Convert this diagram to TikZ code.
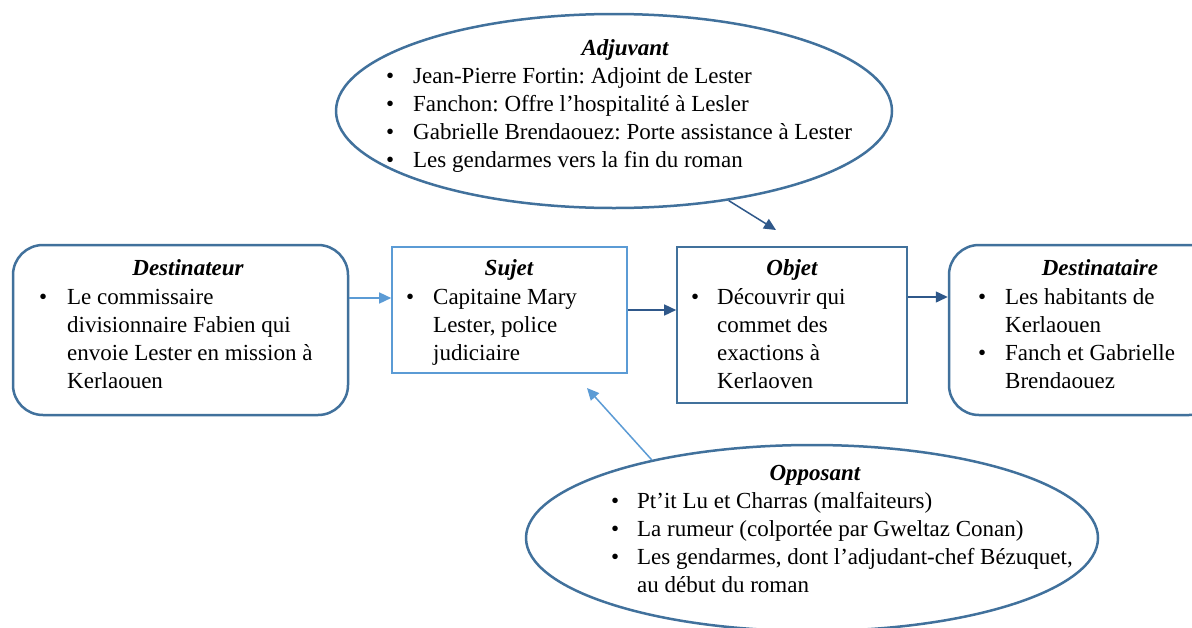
\documentclass[tikz,border=0pt]{standalone}
\usepackage{fontspec}
\setmainfont{Liberation Serif}
\usetikzlibrary{arrows.meta,shapes.geometric}
\definecolor{frame}{RGB}{65,113,156}
\definecolor{lightb}{RGB}{91,155,213}
\definecolor{darkb}{RGB}{47,88,138}
\newcommand\bodyfont{\fontsize{23}{28}\selectfont}
\newcommand\bl[1]{\makebox[#1pt][l]{\textbullet}}
\frenchspacing
\begin{document}
\begin{tikzpicture}[x=1pt,y=-1pt,
  rbox/.style={draw=frame, line width=2.5pt, rounded corners=30pt, inner sep=0pt},
  sbox/.style={draw=#1, line width=1.6pt, inner sep=0pt},
  oval/.style={draw=frame, line width=2.5pt, ellipse, inner sep=0pt},
  ttl/.style={anchor=base, inner sep=0pt, font=\bodyfont\bfseries\itshape},
  items/.style={anchor=base west, inner sep=0pt, font=\bodyfont},
  larrow/.style={draw=lightb, line width=1.5pt, -{Triangle[length=12pt,width=11pt]}},
  darrow/.style={draw=darkb, line width=1.5pt, -{Triangle[length=12pt,width=11pt]}}]
\useasboundingbox (0,0) rectangle (1192,627);
\fill[white] (0,0) rectangle (1192,627);
\clip (0,0) rectangle (1192,627);

% shapes
\node[rbox, minimum width=335pt, minimum height=170pt] (dest) at (180.5,330) {};
\node[sbox=lightb, minimum width=235pt, minimum height=126pt] (suj) at (509.5,310) {};
\node[sbox=frame, minimum width=230pt, minimum height=156pt] (obj) at (792,325) {};
\node[rbox, minimum width=270pt, minimum height=170pt] (dstn) at (1084,330) {};
\node[oval, minimum width=556pt, minimum height=194pt] (adj) at (614,111) {};
\node[oval, minimum width=572pt, minimum height=186pt] (opp) at (812,538) {};

% titles
\node[ttl] (dest-t) at (188,275) {Destinateur};
\node[ttl] (suj-t) at (509,275) {Sujet};
\node[ttl] (obj-t) at (792,275) {Objet};
\node[ttl] (dstn-t) at (1100,275) {Destinataire};
\node[ttl] (adj-t) at (625,55) {Adjuvant};
\node[ttl] (opp-t) at (815,480) {Opposant};

% texts
\node[items] (dest-i) at (39,304) {\begin{tabular}[t]{@{}l@{}l@{}}
\bl{28}&Le commissaire\\
&divisionnaire Fabien qui\\
&envoie Lester en mission à\\
&Kerlaouen\end{tabular}};
\node[items] (suj-i) at (406,304) {\begin{tabular}[t]{@{}l@{}l@{}}
\bl{27}&Capitaine Mary\\
&Lester, police\\
&judiciaire\end{tabular}};
\node[items] (obj-i) at (691,304) {\begin{tabular}[t]{@{}l@{}l@{}}
\bl{26}&Découvrir qui\\
&commet des\\
&exactions à\\
&Kerlaoven\end{tabular}};
\node[items] (dstn-i) at (978,304) {\begin{tabular}[t]{@{}l@{}l@{}}
\bl{27}&Les habitants de\\
&Kerlaouen\\
\bl{27}&Fanch et Gabrielle\\
&Brendaouez\end{tabular}};
\node[items] (adj-i) at (386,83) {\begin{tabular}[t]{@{}l@{}l@{}}
\bl{27}&Jean-Pierre Fortin: Adjoint de Lester\\
\bl{27}&Fanchon: Offre l’hospitalité à Lesler\\
\bl{27}&Gabrielle Brendaouez: Porte assistance à Lester\\
\bl{27}&Les gendarmes vers la fin du roman\end{tabular}};
\node[items] (opp-i) at (611,508) {\begin{tabular}[t]{@{}l@{}l@{}}
\bl{26}&Pt’it Lu et Charras (malfaiteurs)\\
\bl{26}&La rumeur (colportée par Gweltaz Conan)\\
\bl{26}&Les gendarmes, dont l’adjudant-chef Bézuquet,\\
&au début du roman\end{tabular}};

% connectors
\path ([yshift=32pt]dest.east) coordinate (d1);
\draw[larrow] (d1) -- (d1 -| suj.west);
\draw[darrow] (suj.east) -- (suj.east -| obj.west);
\path ([yshift=28pt]obj.east) coordinate (o1);
\draw[darrow] (o1) -- (o1 -| dstn.west);
\coordinate (adjtip) at (776,230);
\draw[darrow] (adj.-38) -- (adjtip);
\coordinate (opptip) at (587,388);
\draw[larrow] (opp.154) -- (opptip);
\end{tikzpicture}
\end{document}
